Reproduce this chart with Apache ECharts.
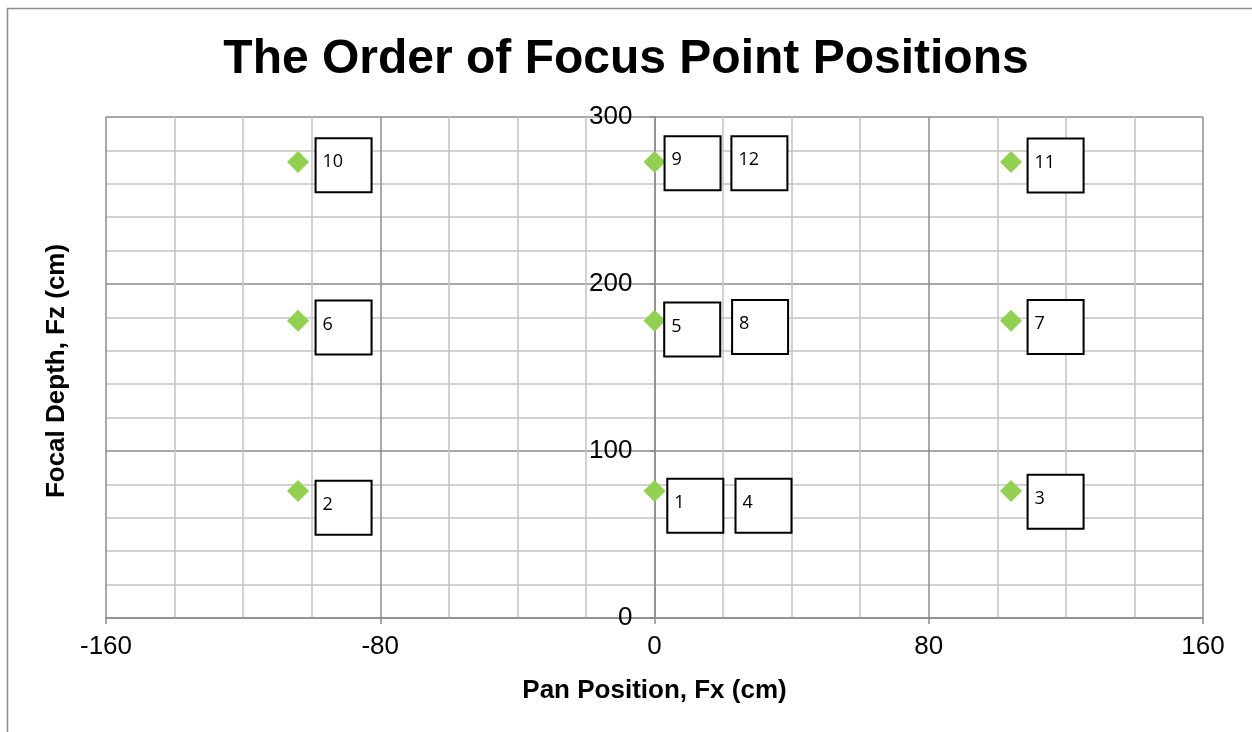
<!DOCTYPE html>
<html>
<head>
<meta charset="utf-8">
<title>The Order of Focus Point Positions</title>
<script src="https://cdn.jsdelivr.net/npm/echarts@6/dist/echarts.min.js"></script>
<style>
  html, body { margin: 0; padding: 0; background: #fff; }
  #chart { width: 1252px; height: 732px; }
</style>
</head>
<body>
<div id="chart"></div>
<script>
// focus points (cm)
const pointX = [-104, 0, 104, -104, 0, 104, -104, 0, 104];
const pointY = [273, 273, 273, 178, 178, 178, 76, 76, 76];

// numbered text boxes, centre in data units
const boxText = ['1', '2', '3', '4', '5', '6', '7', '8', '9', '10', '11', '12'];
const boxX = [11.9, -90.7, 117.0, 31.8, 11.0, -90.7, 117.0, 30.8, 11.1, -90.7, 117.0, 30.6];
const boxY = [67.2, 66.0, 69.6, 67.2, 172.8, 174.0, 174.3, 174.3, 272.3, 271.1, 271.0, 272.3];

const xTicks = [-160, -80, 0, 80, 160];
const yTicks = [0, 100, 200, 300];

const FONT = '"Liberation Sans", Arial, sans-serif';
const majorGrid = '#8c8c8c';
const minorGrid = '#c4c4c4';

const gridLeft = 106, gridRight = 49;
const plotW = 1252 - gridLeft - gridRight;
// vertical axis crosses at x = 0, i.e. half way across the plot
const yAxisShift = plotW * (0 - xTicks[0]) / (xTicks[xTicks.length - 1] - xTicks[0]);

const chart = echarts.init(document.getElementById('chart'));

chart.setOption({
  animation: false,
  backgroundColor: '#fff',
  title: {
    text: 'The Order of Focus Point Positions',
    left: 'center',
    top: 31,
    textStyle: { fontFamily: FONT, fontSize: 48, fontWeight: 'bold', color: '#000' }
  },
  grid: { left: gridLeft, right: gridRight, top: 117, bottom: 114, containLabel: false },
  xAxis: {
    type: 'value',
    min: xTicks[0],
    max: xTicks[xTicks.length - 1],
    interval: 80,
    name: 'Pan Position, Fx (cm)',
    nameLocation: 'middle',
    nameGap: 60,
    nameTextStyle: { fontFamily: FONT, fontSize: 26, fontWeight: 'bold', color: '#000' },
    axisLine: { lineStyle: { color: majorGrid, width: 1.5 } },
    axisTick: { show: true, length: 6, lineStyle: { color: majorGrid, width: 1.5 } },
    axisLabel: { fontFamily: FONT, fontSize: 26, color: '#000', margin: 16 },
    splitLine: { show: true, lineStyle: { color: majorGrid, width: 1.5 } },
    minorTick: { show: false, splitNumber: 4 },
    minorSplitLine: { show: true, lineStyle: { color: minorGrid, width: 1.5 } }
  },
  yAxis: {
    type: 'value',
    min: yTicks[0],
    max: yTicks[yTicks.length - 1],
    interval: 100,
    position: 'left',
    offset: -yAxisShift,
    axisLine: { onZero: false, lineStyle: { color: majorGrid, width: 1.5 } },
    axisTick: { show: true, length: 5, lineStyle: { color: majorGrid, width: 1.5 } },
    axisLabel: { fontFamily: FONT, fontSize: 26, color: '#000', margin: 22 },
    splitLine: { show: true, lineStyle: { color: majorGrid, width: 1.5 } },
    minorTick: { show: false, splitNumber: 5 },
    minorSplitLine: { show: true, lineStyle: { color: minorGrid, width: 1.5 } }
  },
  graphic: [
    {
      type: 'rect',
      silent: true,
      shape: { x: 7.5, y: 8.5, width: 1400, height: 900 },
      style: { fill: 'none', stroke: '#8c8c8c', lineWidth: 1.5 }
    },
    {
      type: 'text',
      x: 57,
      y: 371,
      rotation: Math.PI / 2,
      style: {
        text: 'Focal Depth, Fz (cm)',
        align: 'center',
        verticalAlign: 'middle',
        font: 'bold 26px ' + FONT,
        fill: '#000'
      }
    }
  ],
  series: [
    {
      name: 'Focus points',
      type: 'scatter',
      symbol: 'diamond',
      symbolSize: 22,
      itemStyle: { color: '#92D050', opacity: 1 },
      z: 3,
      data: pointX.map((x, i) => [x, pointY[i]])
    },
    {
      name: 'Order',
      type: 'scatter',
      symbol: 'rect',
      symbolSize: [56, 54],
      itemStyle: { color: '#fff', borderColor: '#000', borderWidth: 2, opacity: 1 },
      z: 4,
      label: {
        show: true,
        position: 'insideLeft',
        distance: 8,
        offset: [0, -3],
        formatter: p => p.data[2],
        fontFamily: '"Open Sans", sans-serif',
        fontSize: 18,
        color: '#000'
      },
      data: boxText.map((t, i) => [boxX[i], boxY[i], t])
    }
  ]
});
</script>
</body>
</html>
